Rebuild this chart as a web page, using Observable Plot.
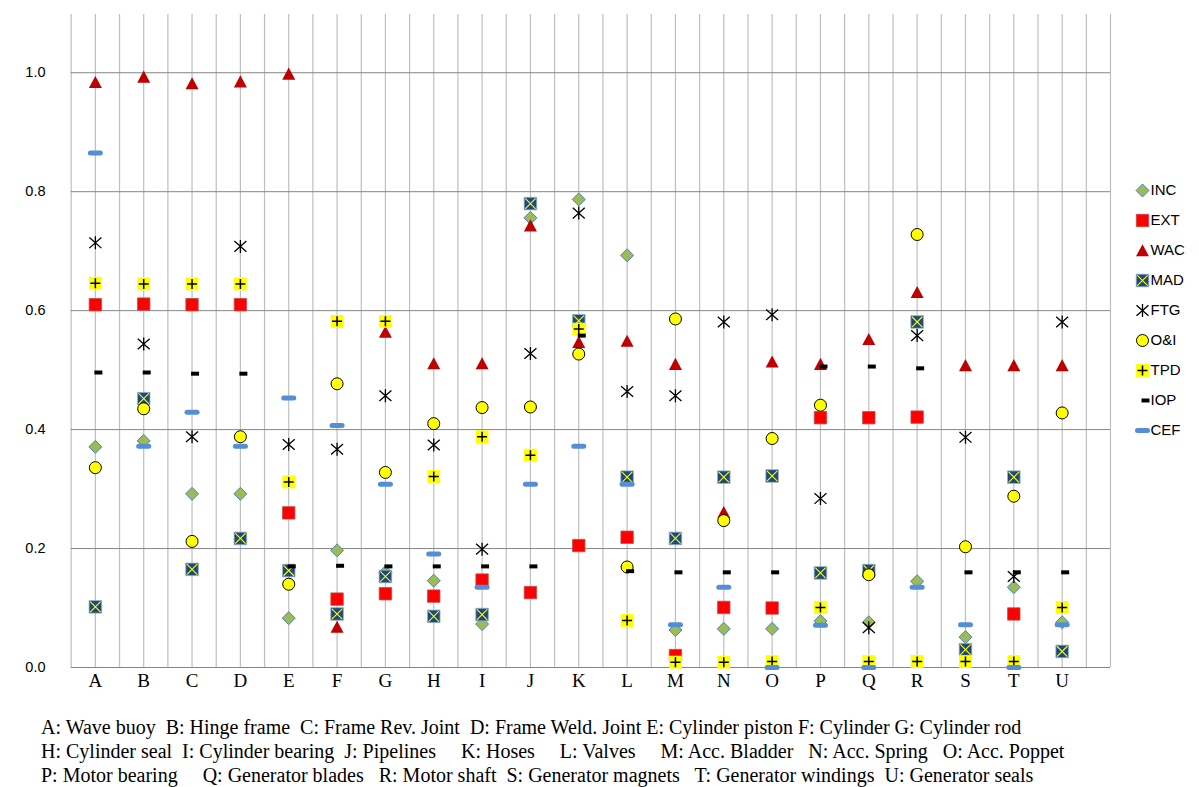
<!DOCTYPE html>
<html><head><meta charset="utf-8">
<script src="https://cdn.jsdelivr.net/npm/d3@7"></script>
<script src="https://cdn.jsdelivr.net/npm/@observablehq/plot@0.6"></script>
<style>
body{margin:0;background:#fff;}
#wrap{position:relative;width:1199px;height:787px;overflow:hidden;background:#fff}
#chart{position:absolute;left:0;top:0}
#legend{position:absolute;left:1110px;top:170px;line-height:0}
#caption{position:absolute;left:41px;top:715px;font-family:"Liberation Serif","Times New Roman",serif;font-size:20px;line-height:24px;white-space:pre;color:#000}
</style></head><body>
<div id="wrap"><div id="chart"></div><div id="legend"></div><div id="caption"></div></div>
<script>
const categories = ["A","B","C","D","E","F","G","H","I","J","K","L","M","N","O","P","Q","R","S","T","U"];
const seriesNames = ["INC","EXT","WAC","MAD","FTG","O&I","TPD","IOP","CEF"];
const yTicks = [0, 0.2, 0.4, 0.6, 0.8, 1.0];

const INC = [0.371,0.381,0.292,0.292,0.083,0.197,0.160,0.146,0.073,0.756,0.787,0.693,0.063,0.065,0.065,0.078,0.076,0.145,0.051,0.135,0.076];
const EXT = [0.610,0.611,0.610,0.610,0.260,0.115,0.124,0.120,0.147,0.126,0.205,0.219,0.020,0.101,0.100,0.420,0.420,0.421,null,0.090,null];
const WAC = [0.984,0.993,0.982,0.985,0.998,0.068,0.564,0.511,0.511,0.743,0.547,0.549,0.510,0.261,0.514,0.510,0.552,0.631,0.508,0.508,0.508];
const MAD = [0.102,0.452,0.165,0.217,0.163,0.090,0.153,0.086,0.089,0.780,0.583,0.320,0.217,0.320,0.322,0.159,0.163,0.581,0.030,0.320,0.027];
const FTG = [0.714,0.544,0.388,0.708,0.375,0.367,0.457,0.374,0.199,0.528,0.764,0.464,0.457,0.581,0.593,0.284,0.067,0.558,0.387,0.153,0.581];
const OI  = [0.336,0.435,0.212,0.388,0.140,0.477,0.328,0.410,0.437,0.438,0.527,0.169,0.586,0.247,0.385,0.441,0.156,0.728,0.203,0.288,0.428];
const TPD = [0.646,0.645,0.645,0.645,0.312,0.582,0.582,0.321,0.388,0.357,0.569,0.079,0.009,0.009,0.010,0.101,0.010,0.010,0.010,0.010,0.101];
const IOP = [0.496,0.496,0.494,0.494,0.170,0.171,0.170,0.170,0.170,0.170,0.558,0.162,0.160,0.160,0.160,0.506,0.506,0.503,0.160,0.160,0.160];
const CEF = [0.865,0.372,0.429,0.372,0.453,0.407,0.308,0.191,0.135,0.308,0.372,0.308,0.072,0.135,0.000,0.071,0.000,0.135,0.072,0.000,0.072];

const captionLines = [
  "A: Wave buoy  B: Hinge frame  C: Frame Rev. Joint  D: Frame Weld. Joint E: Cylinder piston F: Cylinder G: Cylinder rod",
  "H: Cylinder seal  I: Cylinder bearing  J: Pipelines     K: Hoses     L: Valves     M: Acc. Bladder   N: Acc. Spring   O: Acc. Poppet",
  "P: Motor bearing     Q: Generator blades   R: Motor shaft  S: Generator magnets   T: Generator windings  U: Generator seals"
];

const seriesValues = [INC, EXT, WAC, MAD, FTG, OI, TPD, IOP, CEF];

// ---- custom marker symbols (pixel geometry) ----
const sym = fn => ({draw: (c) => fn(c)});
const diamond = sym(c => {c.moveTo(0,-6.5);c.lineTo(6.5,0);c.lineTo(0,6.5);c.lineTo(-6.5,0);c.closePath();});
const square = h => sym(c => {c.rect(-h,-h,2*h,2*h);});
const triangle = sym(c => {c.moveTo(0,-6.3);c.lineTo(6.5,5.8);c.lineTo(-6.5,5.8);c.closePath();});
const cross = h => sym(c => {c.moveTo(-h,-h);c.lineTo(h,h);c.moveTo(-h,h);c.lineTo(h,-h);});
const star = sym(c => {c.moveTo(-6,-5.3);c.lineTo(6,5.3);c.moveTo(-6,5.3);c.lineTo(6,-5.3);c.moveTo(0,-6.5);c.lineTo(0,6.5);});
const plus = sym(c => {c.moveTo(-5,0);c.lineTo(5,0);c.moveTo(0,-5);c.lineTo(0,5);});
const circle = sym(c => {c.moveTo(6,0);c.arc(0,0,6,0,2*Math.PI);c.closePath();});
const iopDash = sym(c => {c.rect(-1,-2,8,4);});
const roundRect = (c,x,y,w,h,r) => {c.moveTo(x+r,y);c.lineTo(x+w-r,y);c.arcTo(x+w,y,x+w,y+r,r);c.lineTo(x+w,y+h-r);c.arcTo(x+w,y+h,x+w-r,y+h,r);c.lineTo(x+r,y+h);c.arcTo(x,y+h,x,y+h-r,r);c.lineTo(x,y+r);c.arcTo(x,y,x+r,y,r);c.closePath();};
const cefDash = sym(c => roundRect(c,-7.5,-2.5,15,5,2.5));

function seriesMarks(name, data, chan) {
  const d = (o) => Plot.dot(data, {...chan, ...o});
  switch (name) {
    case "INC": return [d({symbol: diamond, fill: "#9BBB59", stroke: "#4F81BD", strokeWidth: 1})];
    case "EXT": return [d({symbol: square(6.2), fill: "#FF0000", stroke: "#BE4B48", strokeWidth: 0.8})];
    case "WAC": return [d({symbol: triangle, fill: "#C00000", stroke: "none"})];
    case "MAD": return [d({symbol: square(6.3), fill: "#1F497D", stroke: "#95B3D7", strokeWidth: 0.8}),
                        d({symbol: cross(5.2), fill: "none", stroke: "#FFFF00", strokeWidth: 1.1})];
    case "FTG": return [d({symbol: star, fill: "none", stroke: "#000", strokeWidth: 1.3})];
    case "O&I": return [d({symbol: circle, fill: "#FFFF00", stroke: "#000", strokeWidth: 1})];
    case "TPD": return [d({symbol: square(6.4), fill: "#FFFF00", stroke: "none"}),
                        d({symbol: plus, fill: "none", stroke: "#000", strokeWidth: 1.5})];
    case "IOP": return [d({symbol: iopDash, fill: "#000", stroke: "none"})];
    case "CEF": return [d({symbol: cefDash, fill: "#558ED5", stroke: "none"})];
  }
}

const rowsBySeries = seriesNames.map((s, i) =>
  seriesValues[i].map((v, j) => ({series: s, cat: categories[j], idx: j, value: v})).filter(r => r.value != null));

const yMax = 1.108;
const gridX = d3.range(-0.5, 21.001, 0.5);

const chart = Plot.plot({
  width: 1199, height: 705,
  marginTop: 8, marginBottom: 38, marginLeft: 70.7, marginRight: 89,
  style: {background: "transparent", overflow: "visible"},
  x: {domain: [-0.5, 21], range: [70.7, 1110]},
  y: {domain: [0, yMax], range: [667, 8]},
  marks: [
    Plot.ruleX(gridX, {x: d => d, y1: 0, y2: yMax, stroke: "#BFBFBF", strokeWidth: 1.2, insetBottom: -6}),
    Plot.ruleY(yTicks, {stroke: "#868686", strokeWidth: 1}),
    Plot.axisY({ticks: yTicks, tickFormat: d3.format(".1f"), tickSize: 0, tickPadding: 25.7, fontSize: 14.5, fontFamily: "Liberation Sans, Arial, sans-serif", label: null, fill: "#000"}),
    Plot.axisX({ticks: d3.range(categories.length), tickFormat: i => categories[i], tickSize: 0, tickPadding: 6, fontSize: 19, fontFamily: "Liberation Serif, Times New Roman, serif", label: null, fill: "#000"}),
    ...seriesNames.flatMap((s, i) => seriesMarks(s, rowsBySeries[i], {x: "idx", y: "value"}))
  ]
});
document.getElementById("chart").appendChild(chart);

const legendRows = seriesNames.map(s => ({series: s}));
const legend = Plot.plot({
  width: 89, height: 280,
  marginLeft: 32, marginRight: 0, marginTop: 0, marginBottom: 0,
  style: {background: "transparent", overflow: "visible"},
  y: {type: "point", domain: seriesNames, range: [20, 260], padding: 0, axis: null},
  marks: [
    ...seriesNames.flatMap(s => seriesMarks(s, legendRows.filter(r => r.series === s), {y: "series", frameAnchor: "left"})),
    Plot.text(legendRows, {y: "series", text: "series", frameAnchor: "left", dx: 8, textAnchor: "start", fontSize: 15, fontFamily: "Liberation Sans, Arial, sans-serif", fill: "#000"})
  ]
});
document.getElementById("legend").appendChild(legend);

document.getElementById("caption").textContent = captionLines.join("\n");
</script>
</body></html>
